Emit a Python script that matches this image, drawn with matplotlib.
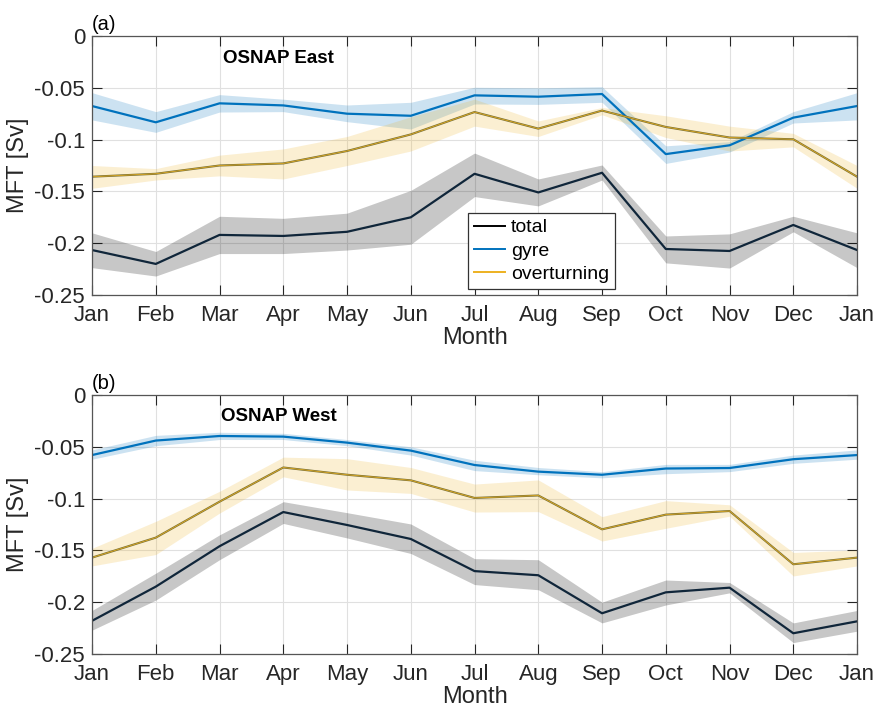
import matplotlib.pyplot as plt
from matplotlib.lines import Line2D
import numpy as np

plt.rcParams['font.family'] = ['Liberation Sans', 'DejaVu Sans']

months = ['Jan', 'Feb', 'Mar', 'Apr', 'May', 'Jun', 'Jul', 'Aug', 'Sep', 'Oct', 'Nov', 'Dec', 'Jan']

# OSNAP East (a)
east_total = [-0.2066, -0.220, -0.192, -0.193, -0.189, -0.175, -0.133, -0.151, -0.132, -0.2056, -0.2075, -0.1824, -0.2066]
east_total_hi = [-0.190, -0.208, -0.174, -0.176, -0.171, -0.149, -0.113, -0.138, -0.1245, -0.193, -0.191, -0.174, -0.190]
east_total_lo = [-0.2236, -0.2317, -0.210, -0.210, -0.2066, -0.201, -0.155, -0.164, -0.139, -0.219, -0.224, -0.189, -0.2236]
east_gyre = [-0.0676, -0.0833, -0.065, -0.067, -0.075, -0.077, -0.0573, -0.0586, -0.056, -0.114, -0.1055, -0.0788, -0.0676]
east_gyre_hi = [-0.0547, -0.073, -0.0566, -0.061, -0.0666, -0.064, -0.0495, -0.050, -0.049, -0.106, -0.102, -0.073, -0.0547]
east_gyre_lo = [-0.081, -0.093, -0.0734, -0.073, -0.0827, -0.0898, -0.0656, -0.066, -0.064, -0.123, -0.112, -0.084, -0.081]
east_ot = [-0.1358, -0.133, -0.125, -0.123, -0.111, -0.095, -0.0734, -0.0894, -0.072, -0.0878, -0.098, -0.0997, -0.1358]
east_ot_hi = [-0.125, -0.128, -0.115, -0.109, -0.097, -0.078, -0.061, -0.082, -0.069, -0.077, -0.087, -0.094, -0.125]
east_ot_lo = [-0.147, -0.139, -0.135, -0.138, -0.125, -0.111, -0.087, -0.097, -0.076, -0.098, -0.111, -0.107, -0.147]

# OSNAP West (b)
west_total = [-0.218, -0.185, -0.146, -0.113, -0.1255, -0.139, -0.170, -0.174, -0.2107, -0.1905, -0.186, -0.230, -0.2185]
west_total_hi = [-0.208, -0.172, -0.135, -0.103, -0.1136, -0.1245, -0.158, -0.159, -0.200, -0.1786, -0.181, -0.220, -0.208]
west_total_lo = [-0.227, -0.198, -0.159, -0.124, -0.138, -0.153, -0.183, -0.188, -0.220, -0.2027, -0.191, -0.239, -0.228]
west_gyre = [-0.058, -0.044, -0.0396, -0.0402, -0.046, -0.0537, -0.0676, -0.074, -0.077, -0.071, -0.0705, -0.062, -0.058]
west_gyre_hi = [-0.053, -0.039, -0.036, -0.037, -0.043, -0.050, -0.063, -0.070, -0.074, -0.067, -0.067, -0.058, -0.053]
west_gyre_lo = [-0.062, -0.049, -0.043, -0.043, -0.049, -0.058, -0.073, -0.077, -0.080, -0.076, -0.074, -0.066, -0.062]
west_ot = [-0.157, -0.1377, -0.103, -0.070, -0.077, -0.0824, -0.0994, -0.097, -0.1297, -0.1155, -0.112, -0.1634, -0.157]
west_ot_hi = [-0.148, -0.122, -0.093, -0.060, -0.0615, -0.070, -0.086, -0.082, -0.1174, -0.102, -0.106, -0.152, -0.1496]
west_ot_lo = [-0.165, -0.154, -0.114, -0.079, -0.0917, -0.095, -0.113, -0.1126, -0.141, -0.1287, -0.117, -0.1747, -0.165]

c_total = '#10263a'
c_gyre = '#0072BD'
c_ot = '#EDB120'
c_axis = '#262626'

fig = plt.figure(figsize=(8.74, 7.10), dpi=100)
ax_a = fig.add_axes([0.1053, 0.5845, 0.8753, 0.3648])
ax_b = fig.add_axes([0.1053, 0.0789, 0.8753, 0.3648])

x = np.arange(len(months))


def draw_panel(ax, total, t_hi, t_lo, gyre, g_hi, g_lo, ot, o_hi, o_lo, label, title):
    ax.fill_between(x, t_lo, t_hi, color='black', alpha=0.22, lw=0)
    ax.fill_between(x, g_lo, g_hi, color=c_gyre, alpha=0.2, lw=0)
    ax.fill_between(x, o_lo, o_hi, color=c_ot, alpha=0.2, lw=0)
    ax.plot(x, total, color=c_total, lw=1.6)
    ax.plot(x, gyre, color=c_gyre, lw=1.6)
    ax.plot(x, ot, color='#7a7236', lw=1.5)
    ax.plot(x, ot, color=c_ot, lw=0.5)

    ax.set_xlim(0, len(months) - 1)
    ax.set_ylim(-0.25, 0)
    ax.set_xticks(x)
    ax.set_xticklabels(months)
    ax.set_yticks([-0.25, -0.2, -0.15, -0.1, -0.05, 0])
    ax.set_yticklabels(['-0.25', '-0.2', '-0.15', '-0.1', '-0.05', '0'])
    ax.tick_params(direction='in', length=7, width=0.8, top=True, right=True,
                   labelsize=16, colors=c_axis)
    ax.tick_params(axis='x', pad=7)
    ax.tick_params(axis='y', pad=5)
    for s in ax.spines.values():
        s.set_color('#555555')
        s.set_linewidth(0.9)
    ax.grid(True, color='#e0e0e0', lw=0.8)
    ax.set_axisbelow(True)
    ax.set_xlabel('Month', fontsize=17, color=c_axis, labelpad=1)
    ax.set_ylabel('MFT [Sv]', fontsize=17, color=c_axis, labelpad=4)
    ax.text(0.0, 1.006, label, transform=ax.transAxes, ha='left', va='bottom',
            fontsize=14.5, color='black')
    ax.text(0.244, 0.915, title, transform=ax.transAxes, ha='center', va='center',
            fontsize=13.5, fontweight='bold', color='black')


draw_panel(ax_a, east_total, east_total_hi, east_total_lo, east_gyre, east_gyre_hi,
           east_gyre_lo, east_ot, east_ot_hi, east_ot_lo, '(a)', 'OSNAP East')
draw_panel(ax_b, west_total, west_total_hi, west_total_lo, west_gyre, west_gyre_hi,
           west_gyre_lo, west_ot, west_ot_hi, west_ot_lo, '(b)', 'OSNAP West')

handles = [Line2D([], [], color='black', lw=1.4),
           Line2D([], [], color=c_gyre, lw=1.4),
           Line2D([], [], color=c_ot, lw=1.4)]
leg = ax_a.legend(handles, ['total', 'gyre', 'overturning'], loc='lower left',
                  bbox_to_anchor=(0.4915, 0.023), borderaxespad=0, fontsize=14,
                  fancybox=False, framealpha=1, edgecolor='#333333',
                  handlelength=1.6, handletextpad=0.3, borderpad=0.3, labelspacing=0.3)
leg.get_frame().set_linewidth(0.9)

fig.savefig('out.png', dpi=100)
